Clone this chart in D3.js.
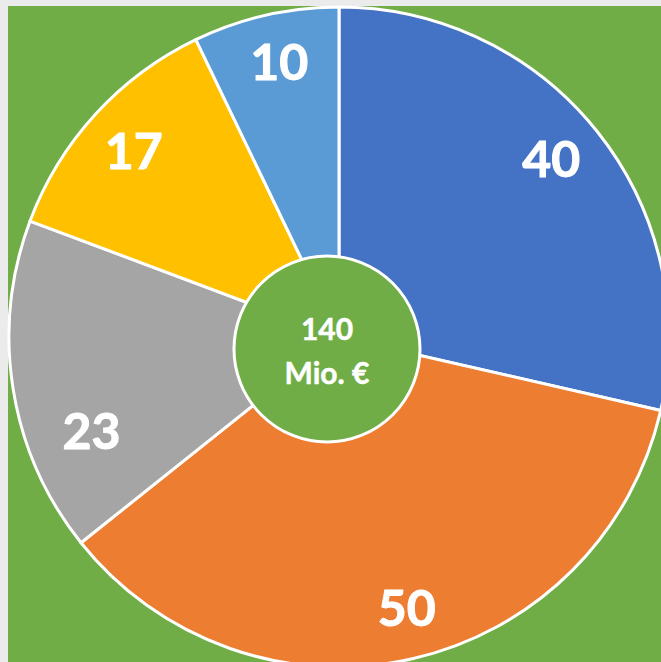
<!DOCTYPE html>
<html>
<head>
<meta charset="utf-8">
<script src="https://cdn.jsdelivr.net/npm/d3@7"></script>
<style>
  html, body { margin: 0; padding: 0; background: #ebebeb; }
  #chart { width: 661px; height: 662px; }
  text { font-family: Lato, "Open Sans", sans-serif; font-weight: 700; fill: #fff; }
</style>
</head>
<body>
<div id="chart"></div>
<script>
const categories = ["A", "B", "C", "D", "E"];
const values = [40, 50, 23, 17, 10];
const colors = ["#4472c4", "#ed7d31", "#a5a5a5", "#ffc000", "#5b9bd5"];
const totalLines = ["140", "Mio. €"];

const width = 661;
const height = 662;
const cx = 339;
const cy = 337;
const outerR = 330;
const labelR = 278;

// label nudges, the original labels are not all on the centroid
const labelNudge = [[-5, -5], [6, 0], [27, 51], [0, 2], [2, -4]];

const svg = d3
  .select("#chart")
  .append("svg")
  .attr("width", width)
  .attr("height", height);

svg.append("rect")
  .attr("x", 8)
  .attr("y", 6)
  .attr("width", width - 8)
  .attr("height", height - 6)
  .attr("fill", "#70ad47");

const pie = d3.pie().sort(null).value((d) => d.value);
const arcs = pie(categories.map((c, i) => ({ name: c, value: values[i], color: colors[i] })));

const arc = d3.arc().innerRadius(0).outerRadius(outerR);
const labelArc = d3.arc().innerRadius(labelR).outerRadius(labelR);

const g = svg.append("g").attr("transform", `translate(${cx},${cy})`);

g.selectAll("path")
  .data(arcs)
  .join("path")
  .attr("d", arc)
  .attr("fill", (d) => d.data.color)
  .attr("stroke", "#fff")
  .attr("stroke-width", 3)
  .attr("stroke-linejoin", "round");

g.selectAll("text.val")
  .data(arcs)
  .join("text")
  .attr("class", "val")
  .attr("transform", (d, i) => {
    const [x, y] = labelArc.centroid(d);
    const n = labelNudge[i];
    return `translate(${x + n[0]},${y + n[1]})`;
  })
  .attr("text-anchor", "middle")
  .attr("dy", "0.36em")
  .attr("font-size", 50)
  .attr("stroke", "#fff")
  .attr("stroke-width", 1)
  .text((d) => d.data.value);

// centre disc, sits a bit left/down of the pie centre like the original
const hole = svg.append("g").attr("transform", `translate(${cx - 12},${cy + 12})`);

hole.append("circle")
  .attr("r", 93)
  .attr("fill", "#70ad47")
  .attr("stroke", "#fff")
  .attr("stroke-width", 3);

hole.selectAll("text")
  .data(totalLines)
  .join("text")
  .attr("text-anchor", "middle")
  .attr("y", (d, i) => (i === 0 ? -20 : 24))
  .attr("dy", "0.36em")
  .attr("font-size", 30)
  .attr("stroke", "#fff")
  .attr("stroke-width", 0.5)
  .text((d) => d);
</script>
</body>
</html>
